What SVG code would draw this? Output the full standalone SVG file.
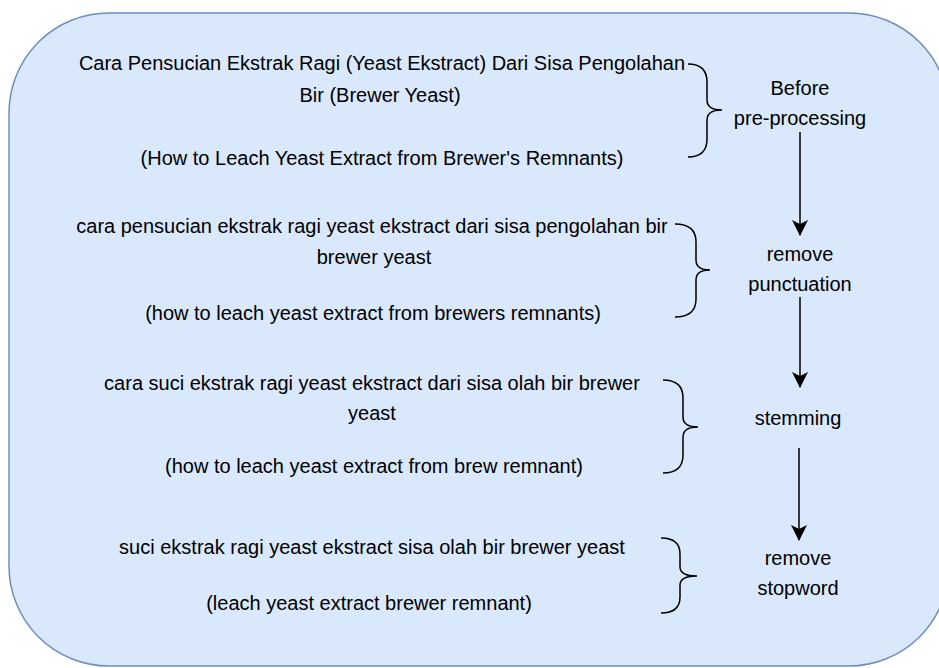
<svg xmlns="http://www.w3.org/2000/svg" width="939" height="668" viewBox="0 0 939 668">
<style>
text{font-family:"Liberation Sans",Arial,Helvetica,sans-serif;font-size:20px;fill:#000;text-anchor:middle;dominant-baseline:central}
.br{fill:none;stroke:#000;stroke-width:1.5}
.ar{fill:none;stroke:#000;stroke-width:1.5;marker-end:url(#ah)}
</style>
<defs>
<marker id="ah" viewBox="0 0 16 16" refX="15" refY="8" markerWidth="16" markerHeight="16" markerUnits="userSpaceOnUse" orient="auto">
<path d="M0,0 L16,8 L0,16 L4,8 Z" fill="#000"/>
</marker>
</defs>
<rect id="container" x="9" y="13" width="940" height="653" rx="100" ry="100" fill="#dae8fc" stroke="#6c8ebf" stroke-width="1.5"/>
<g id="text1">
<text x="382" y="63">Cara Pensucian Ekstrak Ragi (Yeast Ekstract) Dari Sisa Pengolahan</text>
<text x="380" y="95">Bir (Brewer Yeast)</text>
<text x="382" y="158">(How to Leach Yeast Extract from Brewer's Remnants)</text>
</g>
<g id="brace1"><path class="br" d="M688,64 Q707,64 707,82 L707,100 Q707,110 722,110 Q707,110 707,120 L707,139 Q707,157 688,157"/></g>
<g id="label1"><text x="800" y="88">Before</text><text x="800" y="118">pre-processing</text></g>
<g id="text2">
<text x="372" y="226">cara pensucian ekstrak ragi yeast ekstract dari sisa pengolahan bir</text>
<text x="374" y="257">brewer yeast</text>
<text x="373" y="313">(how to leach yeast extract from brewers remnants)</text>
</g>
<g id="brace2"><path class="br" d="M675,224 Q696,224 696,242 L696,260 Q696,270 710,270 Q696,270 696,280 L696,299 Q696,317 675,317"/></g>
<g id="label2"><text x="800" y="254">remove</text><text x="800" y="284">punctuation</text></g>
<g id="text3">
<text x="372" y="383">cara suci ekstrak ragi yeast ekstract dari sisa olah bir brewer</text>
<text x="372" y="413">yeast</text>
<text x="374" y="466">(how to leach yeast extract from brew remnant)</text>
</g>
<g id="brace3"><path class="br" d="M663,380 Q683,380 683,398 L683,417 Q683,427 698,427 Q683,427 683,437 L683,455 Q683,473 663,473"/></g>
<g id="label3"><text x="798" y="418">stemming</text></g>
<g id="text4">
<text x="372" y="547">suci ekstrak ragi yeast ekstract sisa olah bir brewer yeast</text>
<text x="369" y="603">(leach yeast extract brewer remnant)</text>
</g>
<g id="brace4"><path class="br" d="M661,538 Q680,538 680,554 L680,567 Q680,576 697,576 Q680,576 680,585 L680,597 Q680,613 661,613"/></g>
<g id="label4"><text x="798" y="558">remove</text><text x="798" y="588">stopword</text></g>
<g id="connectors">
<path class="ar" d="M800,132 L800,235"/>
<path class="ar" d="M800,297 L800,387"/>
<path class="ar" d="M799,448 L799,540"/>
</g>
</svg>
